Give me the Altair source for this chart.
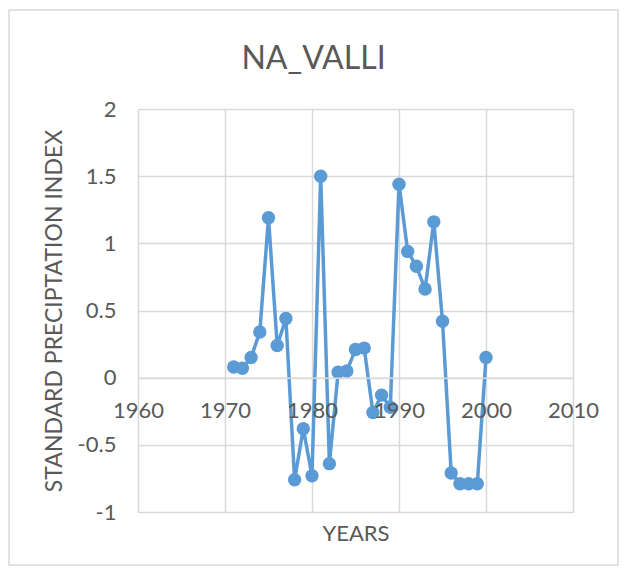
import altair as alt
import pandas as pd

years = list(range(1971, 2001))
spi = [0.08, 0.07, 0.15, 0.34, 1.19, 0.24, 0.44, -0.76, -0.38, -0.73,
       1.50, -0.64, 0.04, 0.05, 0.21, 0.22, -0.26, -0.13, -0.22, 1.44,
       0.94, 0.83, 0.66, 1.16, 0.42, -0.71, -0.79, -0.79, -0.79, 0.15]
x_ticks = [1960, 1970, 1980, 1990, 2000, 2010]
y_ticks = [-1, -0.5, 0, 0.5, 1, 1.5, 2]

df = pd.DataFrame({"year": years, "spi": spi})

FONT = "Lato"
GREY = "#595959"
GRID = "#D9D9D9"
BLUE = "#5B9BD5"
W, H = 435, 403

xscale = alt.Scale(domain=[1960, 2010], nice=False, zero=False)
yscale = alt.Scale(domain=[-1, 2], nice=False)

frame = alt.Chart(pd.DataFrame({"a": [0]})).mark_rect(
    fillOpacity=0, stroke=GRID, strokeWidth=1.5
).encode(
    x=alt.value(-129), x2=alt.value(480), y=alt.value(-99), y2=alt.value(456)
)

line = alt.Chart(df).mark_line(color=BLUE, strokeWidth=3.5).encode(
    x=alt.X("year:Q", scale=xscale,
            axis=alt.Axis(values=x_ticks, grid=True, labels=False, ticks=False,
                          domain=False, title="YEARS", titleFont=FONT,
                          titleFontSize=22, titleFontWeight="normal",
                          titleColor=GREY, titlePadding=11, gridColor=GRID,
                          gridWidth=1.5, orient="bottom")),
    y=alt.Y("spi:Q", scale=yscale,
            axis=alt.Axis(values=y_ticks, grid=True, ticks=False, domain=False,
                          labelExpr="datum.value + ''", labelFont=FONT,
                          labelFontSize=22, labelColor=GREY, labelPadding=22,
                          labelFlush=False, labelOverlap=False,
                          title="STANDARD PRECIPTATION INDEX", titleFont=FONT,
                          titleFontSize=23, titleFontWeight="normal",
                          titleColor=GREY, titlePadding=11, gridColor=GRID,
                          gridWidth=1.5)),
)

points = alt.Chart(df).mark_circle(color=BLUE, size=180, opacity=1).encode(
    x=alt.X("year:Q", scale=xscale,
            axis=alt.Axis(values=x_ticks, grid=False, ticks=False, domain=True,
                          domainColor=GRID, domainWidth=1.5,
                          offset=-H / 3, orient="bottom",
                          labelExpr="datum.value + ''", labelFont=FONT,
                          labelFontSize=22, labelColor=GREY, labelPadding=23,
                          labelFlush=False, labelOverlap=False,
                          title=None, zindex=1)),
    y=alt.Y("spi:Q", scale=yscale),
)

chart = alt.layer(frame, line, points).resolve_axis(x="independent").properties(
    width=W, height=H,
    autosize=alt.AutoSizeParams(type="none"),
    padding={"left": 130, "top": 101, "right": 47, "bottom": 54},
    title=alt.TitleParams("NA_VALLI", font=FONT, fontSize=32,
                          fontWeight="normal", color=GREY, anchor="middle",
                          frame="bounds", baseline="alphabetic", offset=-92),
).configure_view(stroke=None).configure(background="white")

chart.save("out.html", embed_options={"renderer": "svg", "actions": False})
